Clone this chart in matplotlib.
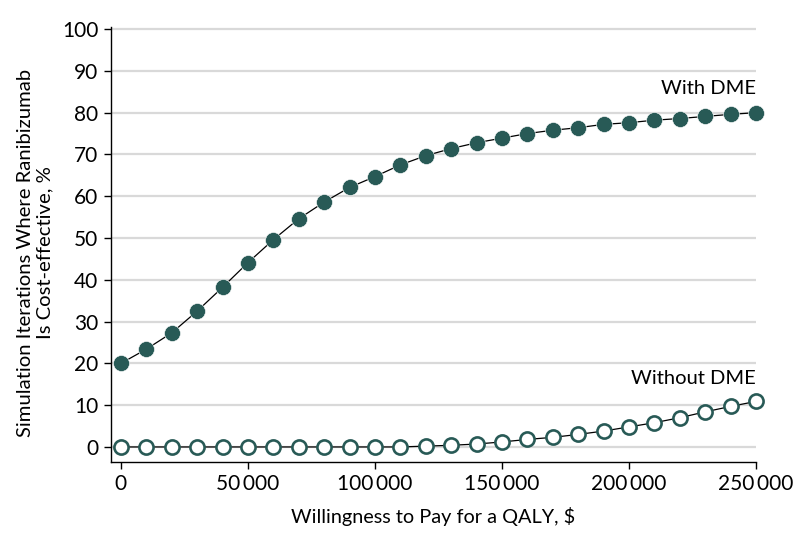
import matplotlib
matplotlib.use("Agg")
import matplotlib.pyplot as plt
from matplotlib.ticker import FuncFormatter

plt.rcParams['font.family'] = ['Lato', 'DejaVu Sans']

wtp = [0, 10000, 20000, 30000, 40000, 50000, 60000, 70000, 80000, 90000,
       100000, 110000, 120000, 130000, 140000, 150000, 160000, 170000, 180000,
       190000, 200000, 210000, 220000, 230000, 240000, 250000]
with_dme = [20.0, 23.4, 27.3, 32.5, 38.2, 44.1, 49.6, 54.6, 58.6, 62.1,
            64.7, 67.5, 69.7, 71.4, 72.8, 73.9, 75.0, 75.8, 76.4, 77.2,
            77.6, 78.2, 78.6, 79.1, 79.6, 80.0]
without_dme = [0, 0, 0, 0, 0, 0, 0, 0, 0, 0,
               0, 0, 0.2, 0.4, 0.7, 1.2, 1.8, 2.3, 3.0, 3.8,
               4.8, 5.8, 7.0, 8.4, 9.7, 10.9]
xticks = [0, 50000, 100000, 150000, 200000, 250000]
yticks = [0, 10, 20, 30, 40, 50, 60, 70, 80, 90, 100]

color = "#285a56"
fig = plt.figure(figsize=(7.98, 5.46), dpi=100)
ax = fig.add_axes([111/798, 84/546, (756-111)/798, (462-27)/546])

ax.plot(wtp, with_dme, color="black", lw=0.9, zorder=3)
ax.plot(wtp, with_dme, 'o', color=color, ms=11.5, mec="white", mew=0.4, zorder=4, clip_on=False)
ax.plot(wtp, without_dme, color="black", lw=0.9, zorder=3)
ax.plot(wtp, without_dme, 'o', mfc="white", mec=color, ms=10.2, mew=1.9, zorder=4, clip_on=False)

ax.set_xlim(-3900, 250000)
ax.set_ylim(-3.6, 100.5)
ax.set_yticks(yticks)
ax.set_xticks(xticks)
ax.xaxis.set_major_formatter(FuncFormatter(lambda v, p: "0" if v == 0 else f"{int(v):,}".replace(",", "\u2009")))
ax.grid(axis='y', color="#d9d9d9", lw=1.6, zorder=0)
ax.set_axisbelow(True)
for s in ["top", "right"]:
    ax.spines[s].set_visible(False)
ax.spines["left"].set_linewidth(1.0)
ax.spines["bottom"].set_linewidth(1.0)
ax.tick_params(axis='both', direction='out', length=5, width=1.0, labelsize=15, pad=4)

ax.text(250000, 85.8, "With DME", ha="right", va="center", fontsize=14.5)
ax.text(250000, 16.5, "Without DME", ha="right", va="center", fontsize=14.5)

ax.set_xlabel("Willingness to Pay for a QALY, $", fontsize=14.3, labelpad=9)
ax.set_ylabel("Simulation Iterations Where Ranibizumab\nIs Cost-effective, %", fontsize=14.6, linespacing=1.15)
ax.yaxis.set_label_coords(-0.09, 0.481)

fig.savefig("out.png", dpi=100)
